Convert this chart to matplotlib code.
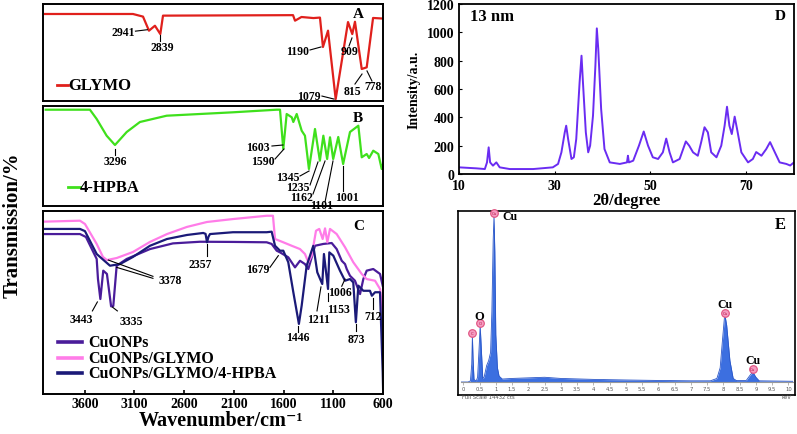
import matplotlib
matplotlib.use('Agg')
import matplotlib.pyplot as plt

plt.rcParams['font.family'] = ['Liberation Serif', 'DejaVu Serif']
plt.rcParams['font.weight'] = 'bold'

# ---------------- DATA ----------------
# Panel A: GLYMO FTIR (wavenumber, transmission a.u.)
glymo_wn = [4000, 3115, 3014, 2954, 2894, 2840, 2813, 1505, 1485, 1420, 1300, 1234, 1204, 1153, 1076, 952, 909, 882, 814, 764, 700, 600]
glymo_t = [89.7, 89.7, 87.0, 72.5, 77.6, 69.0, 88.0, 88.5, 82.8, 86.6, 85.5, 86.0, 55.7, 72.5, 2.0, 81.4, 69.0, 81.7, 33.0, 34.7, 85.6, 85.0]

# Panel B: 4-HPBA FTIR
hpba_wn = [3993, 3548, 3480, 3380, 3296, 3178, 3045, 2776, 2109, 1669, 1636, 1603, 1569, 1518, 1502, 1468, 1418, 1385, 1345, 1284, 1235, 1200, 1162, 1133, 1101, 1050, 1001, 932, 848, 814, 764, 740, 698, 647, 613, 600]
hpba_t = [96.3, 96.3, 87.0, 70.3, 61.0, 74.0, 84.0, 90.3, 93.7, 96.3, 96.3, 57.0, 92.0, 88.7, 84.0, 92.0, 75.3, 70.3, 37.0, 77.0, 45.3, 70.3, 47.0, 68.7, 47.0, 69.0, 42.0, 74.0, 80.3, 48.7, 52.0, 48.0, 55.3, 52.0, 37.0, 42.0]

# Panel C: three FTIR spectra
cu_wn = [4000, 3648, 3588, 3480, 3467, 3443, 3414, 3377, 3335, 3313, 3279, 3178, 2944, 2713, 2441, 2109, 1770, 1720, 1669, 1636, 1553, 1485, 1435, 1385, 1351, 1284, 1200, 1116, 1066, 1015, 982, 965, 932, 882, 831, 798, 764, 698, 630, 603]
cu_t = [87.4, 87.4, 85.8, 73.8, 62.8, 51.9, 67.4, 65.6, 47.9, 48.1, 70.1, 73.8, 79.2, 82.3, 83.2, 83.1, 82.9, 82.0, 78.3, 77.4, 74.7, 69.2, 72.8, 71.0, 68.3, 81.0, 82.0, 82.5, 79.2, 72.8, 71.0, 68.3, 64.6, 61.9, 54.6, 62.8, 67.4, 68.3, 65.6, 59.2]

cug_wn = [4000, 3648, 3598, 3480, 3417, 3377, 3279, 3115, 2944, 2773, 2572, 2371, 2109, 1770, 1707, 1686, 1603, 1518, 1435, 1385, 1351, 1317, 1274, 1241, 1207, 1183, 1160, 1133, 1066, 982, 899, 814, 764, 680, 630, 603]
cug_t = [94.2, 94.7, 92.9, 82.0, 74.9, 73.2, 74.3, 77.6, 83.1, 87.4, 91.3, 94.0, 95.6, 97.4, 97.4, 84.7, 82.9, 81.0, 79.2, 76.5, 72.0, 75.6, 89.2, 90.2, 84.7, 90.5, 82.9, 90.2, 87.4, 80.2, 72.0, 65.6, 62.8, 61.9, 57.4, 44.8]

cugh_wn = [4000, 3648, 3598, 3480, 3346, 3246, 3115, 2944, 2773, 2572, 2408, 2385, 2370, 2355, 2340, 2109, 1770, 1720, 1686, 1636, 1603, 1553, 1502, 1446, 1418, 1368, 1301, 1261, 1211, 1194, 1153, 1140, 1100, 1033, 982, 932, 899, 873, 848, 798, 731, 712, 680, 630, 603, 598]
cugh_t = [90.2, 90.2, 89.0, 76.5, 70.1, 71.0, 74.9, 81.0, 84.7, 86.9, 88.0, 87.5, 82.9, 86.0, 87.4, 88.4, 88.4, 88.7, 81.0, 78.3, 78.3, 72.0, 55.6, 38.3, 48.3, 70.1, 81.0, 66.5, 60.1, 76.5, 57.4, 77.4, 75.6, 67.4, 61.9, 62.8, 61.0, 39.2, 59.2, 56.4, 56.4, 53.7, 55.6, 55.6, 11.9, 0.0]

ftir_ticks = [3600, 3100, 2600, 2100, 1600, 1100, 600]
series_c = ['CuONPs', 'CuONPs/GLYMO', 'CuONPs/GLYMO/4-HPBA']

# Panel D: XRD (2theta, intensity)
xrd_2t = [10, 13.6, 15.4, 15.85, 16.2, 16.5, 17.1, 17.8, 18.5, 20.6, 25.5, 29.6, 30.7, 31.4, 32.1, 32.4, 32.8, 33.5, 34.0, 34.5, 35.2, 35.6, 35.9, 36.5, 37.0, 37.4, 38.0, 38.5, 38.8, 39.1, 39.7, 40.4, 41.5, 43.6, 45.1, 45.3, 45.5, 46.4, 47.6, 48.6, 49.5, 50.5, 51.6, 52.6, 53.3, 54.0, 54.7, 56.1, 57.4, 58.1, 58.9, 59.9, 60.6, 61.3, 62.0, 62.7, 63.8, 64.8, 65.5, 66.0, 66.5, 67.0, 67.6, 68.1, 69.0, 70.4, 71.4, 72.1, 73.2, 74.2, 75.0, 76.0, 77.0, 78.4, 79.2, 80]
xrd_i = [47, 40, 35, 82, 188, 82, 59, 82, 47, 35, 35, 47, 71, 153, 294, 341, 247, 106, 118, 247, 647, 835, 647, 294, 153, 200, 412, 765, 1028, 882, 459, 176, 82, 71, 82, 129, 82, 94, 200, 300, 200, 118, 106, 153, 250, 153, 82, 106, 230, 200, 153, 129, 224, 330, 294, 153, 118, 200, 341, 475, 341, 282, 405, 318, 153, 82, 106, 155, 129, 176, 225, 153, 82, 71, 60, 82]

# Panel E: EDX (keV, counts)
edx_kev = [-0.07, 0.15, 0.22, 0.26, 0.28, 0.30, 0.33, 0.40, 0.44, 0.48, 0.52, 0.56, 0.60, 0.64, 0.68, 0.72, 0.78, 0.84, 0.88, 0.92, 0.945, 0.97, 1.0, 1.05, 1.1, 1.2, 1.5, 2.0, 2.5, 3.0, 4.0, 5.0, 6.0, 7.0, 7.6, 7.8, 7.9, 7.97, 8.03, 8.05, 8.1, 8.2, 8.3, 8.4, 8.7, 8.8, 8.9, 9.0, 9.1, 10.14]
edx_cts = [0, 0, 100, 1500, 3900, 2000, 200, 100, 400, 2500, 4750, 2500, 300, 400, 900, 1400, 1800, 2500, 6000, 12000, 14000, 11000, 4000, 1200, 500, 250, 300, 350, 400, 300, 220, 170, 130, 100, 100, 300, 1200, 3500, 5400, 5600, 4800, 1800, 300, 120, 120, 500, 850, 400, 100, 60]
edx_peaks_kev = [0.28, 0.52, 0.945, 8.05, 8.9]
edx_peaks_cts = [3900, 4750, 14000, 5600, 850]
edx_peaks_el = ['C', 'O', 'Cu', 'Cu', 'Cu']
edx_ticks = [0, 0.5, 1, 1.5, 2, 2.5, 3, 3.5, 4, 4.5, 5, 5.5, 6, 6.5, 7, 7.5, 8, 8.5, 9, 9.5, 10]

# ---------------- FIGURE ----------------
W, H = 797, 435
fig = plt.figure(figsize=(W / 100, H / 100), dpi=100)


def add_ax(l, t, r, b):
    return fig.add_axes([l / W, 1 - b / H, (r - l) / W, (b - t) / H])


def frame(ax, lw=1.4):
    for s in ax.spines.values():
        s.set_linewidth(lw)
        s.set_color('black')


def annot(ax, items, fs=8.5):
    for txt, tx, ty, x1, y1, x2, y2 in items:
        ax.plot([x1, x2], [y1, y2], color='black', lw=0.8, clip_on=False)
        ax.text(tx, ty, txt, ha='center', va='center', fontsize=fs, fontweight='bold', clip_on=False)


red = '#e0201c'
green = '#3fe01c'
c_cu = '#4a1c9a'
c_cug = '#ff7ce8'
c_cugh = '#1b1a78'

axA = add_ax(43, 5, 383, 102)
axB = add_ax(43, 107, 383, 207)
axC = add_ax(43, 212, 383, 395)
for ax in (axA, axB, axC):
    ax.set_xlim(4020, 600)
    ax.set_ylim(0, 100)
    ax.set_yticks([])
    frame(ax)
axA.set_xticks([])
axB.set_xticks([])

# A
axA.plot(glymo_wn, glymo_t, color=red, lw=1.6)
annot(axA, [
    ('2941', 3216, 71.1, 3090, 72.0, 2970, 73.5),
    ('2839', 2823, 55.7, 2840, 68.0, 2840, 61.8),
    ('1190', 1455, 51.5, 1334, 52.6, 1224, 55.7),
    ('909', 942, 51.5, 942, 56.7, 912, 65.0),
    ('1079', 1344, 5.1, 1214, 5.1, 1093, 2.0),
    ('815', 912, 10.3, 882, 17.5, 811, 27.8),
    ('778', 701, 15.5, 711, 20.6, 761, 31.0),
])
axA.text(852, 89.7, 'A', ha='center', va='center', fontsize=11, fontweight='bold')
axA.plot([3880, 3769], [16.5, 16.5], color=red, lw=2)
axA.text(3769, 16.5, 'GLYMO', ha='left', va='center', fontsize=12, fontweight='bold')

# B
axB.plot(hpba_wn, hpba_t, color=green, lw=1.6)
annot(axB, [
    ('3296', 3296, 45.3, 3296, 57.0, 3296, 51.0),
    ('1603', 1857, 59.3, 1717, 60.0, 1606, 61.0),
    ('1590', 1807, 45.3, 1686, 47.0, 1596, 57.0),
    ('1345', 1556, 29.0, 1435, 30.0, 1344, 35.0),
    ('1235', 1455, 19.0, 1334, 21.0, 1254, 44.0),
    ('1162', 1415, 9.0, 1304, 12.0, 1183, 45.0),
    ('1101', 1214, 1.0, 1183, 4.0, 1103, 45.0),
    ('1001', 962, 9.0, 1001, 40.0, 1001, 15.0),
])
axB.text(852, 89, 'B', ha='center', va='center', fontsize=11, fontweight='bold')
axB.plot([3769, 3648], [19, 19], color=green, lw=2)
axB.text(3648, 19, '4-HPBA', ha='left', va='center', fontsize=12, fontweight='bold')

# C
axC.plot(cu_wn, cu_t, color=c_cu, lw=1.6, label=series_c[0])
axC.plot(cug_wn, cug_t, color=c_cug, lw=1.6, label=series_c[1])
axC.plot(cugh_wn, cugh_t, color=c_cugh, lw=1.6, label=series_c[2])
annot(axC, [
    ('3443', 3631, 41.0, 3523, 45.4, 3473, 50.3),
    ('3335', 3128, 40.1, 3272, 45.4, 3322, 47.5),
    ('2357', 2441, 71.0, 2370, 82.0, 2370, 75.4),
    ('1679', 1855, 68.3, 1737, 69.2, 1653, 75.6),
    ('1446', 1452, 31.0, 1452, 37.2, 1452, 33.9),
    ('1211', 1251, 41.0, 1264, 45.4, 1224, 58.5),
    ('1153', 1050, 46.4, 1150, 55.2, 1150, 50.8),
    ('1006', 1033, 55.9, 1015, 58.9, 982, 62.8),
    ('873', 865, 30.0, 872, 38.3, 872, 34.4),
    ('712', 698, 42.5, 704, 52.5, 704, 46.4),
])
axC.plot([2914, 3363], [64.3, 73.2], color='black', lw=0.8)
axC.plot([2914, 3279], [63.2, 69.2], color='black', lw=0.8)
axC.text(2743, 62.5, '3378', ha='center', va='center', fontsize=8.5, fontweight='bold')
axC.text(848, 92.3, 'C', ha='center', va='center', fontsize=11, fontweight='bold')
for lab, col, yv in zip(series_c, [c_cu, c_cug, c_cugh], [28.6, 19.5, 11.5]):
    axC.plot([3867, 3631], [yv, yv], color=col, lw=2.6)
    axC.text(3564, yv, lab, ha='left', va='center', fontsize=11.5, fontweight='bold')

axC.set_xticks(ftir_ticks)
axC.set_xticklabels([str(t) for t in ftir_ticks])
axC.tick_params(axis='x', direction='in', length=3, width=1.2, labelsize=10, pad=2)
for lbl in axC.get_xticklabels():
    lbl.set_fontweight('bold')

fig.text(221 / W, 1 - 421 / H, 'Wavenumber/cm\u207b\u00b9', ha='center', va='center', fontsize=14.5, fontweight='bold')
fig.text(13 / W, 1 - 225 / H, 'Transmission/%', ha='center', va='center', rotation=90, fontsize=15, fontweight='bold')

# D
axD = add_ax(459, 5, 794, 175)
axD.plot(xrd_2t, xrd_i, color='#6a2cf2', lw=1.4)
axD.set_xlim(10, 80)
axD.set_ylim(0, 1200)
axD.set_xticks([10, 30, 50, 70])
axD.set_yticks(range(0, 1201, 200))
axD.tick_params(direction='in', length=2, labelsize=10)
for lbl in axD.get_xticklabels() + axD.get_yticklabels():
    lbl.set_fontweight('bold')
frame(axD, 1.3)
axD.set_ylabel('Intensity/a.u.', fontsize=10, fontweight='bold', labelpad=4)
axD.set_xlabel('2θ/degree', fontsize=12, fontweight='bold', labelpad=0)
axD.text(0.10, 0.93, '13 nm', transform=axD.transAxes, ha='center', va='center', fontsize=12, fontweight='bold')
axD.text(0.96, 0.93, 'D', transform=axD.transAxes, ha='center', va='center', fontsize=11, fontweight='bold')

# E
axE = add_ax(458, 212, 795, 396)
axE.set_xticks([])
axE.set_yticks([])
frame(axE, 1.2)
axE.text(0.955, 0.93, 'E', transform=axE.transAxes, ha='center', va='center', fontsize=12, fontweight='bold')

axS = add_ax(461, 212, 793, 383)
axS.patch.set_alpha(0)
axS.fill_between(edx_kev, edx_cts, 0, color='#3c6fe0', lw=0)
axS.plot(edx_kev, edx_cts, color='#2a56c8', lw=0.6)
axS.set_xlim(-0.07, 10.14)
axS.set_ylim(0, 14432)
for s in ['top', 'left', 'right']:
    axS.spines[s].set_visible(False)
axS.spines['bottom'].set_color('#999999')
axS.spines['bottom'].set_linewidth(0.8)
axS.set_yticks([])
axS.set_xticks(edx_ticks)
axS.set_xticklabels([('%g' % t) for t in edx_ticks])
axS.tick_params(axis='x', length=2, width=0.5, color='#999999', labelsize=3.8, labelcolor='#555555', pad=1)
for lbl in axS.get_xticklabels():
    lbl.set_fontweight('normal')
    lbl.set_family('DejaVu Sans')
axS.text(-0.05, -0.085, 'Full Scale 14432 cts', transform=axS.get_xaxis_transform(), fontsize=3.8, color='#555555', family='DejaVu Sans', fontweight='normal', va='center')
axS.text(10.1, -0.085, 'keV', transform=axS.get_xaxis_transform(), fontsize=3.8, color='#555555', family='DejaVu Sans', fontweight='normal', va='center', ha='right')
for kv, ct, el in zip(edx_peaks_kev, edx_peaks_cts, edx_peaks_el):
    axS.plot([kv], [ct + 250], 'o', ms=5.5, mfc='#f59ac0', mec='#e0507f', mew=0.8, clip_on=False)
    axS.text(kv, ct + 250, el, fontsize=2.8, color='#b01040', ha='center', va='center', family='DejaVu Sans', fontweight='normal')
axS.text(0.48, 5570, 'O', ha='center', va='center', fontsize=9, fontweight='bold')
axS.text(1.2, 14000, 'Cu', ha='left', va='center', fontsize=8.5, fontweight='bold')
axS.text(8.05, 6600, 'Cu', ha='center', va='center', fontsize=8.5, fontweight='bold')
axS.text(8.9, 1860, 'Cu', ha='center', va='center', fontsize=8.5, fontweight='bold')

fig.savefig('out.png', dpi=100)
